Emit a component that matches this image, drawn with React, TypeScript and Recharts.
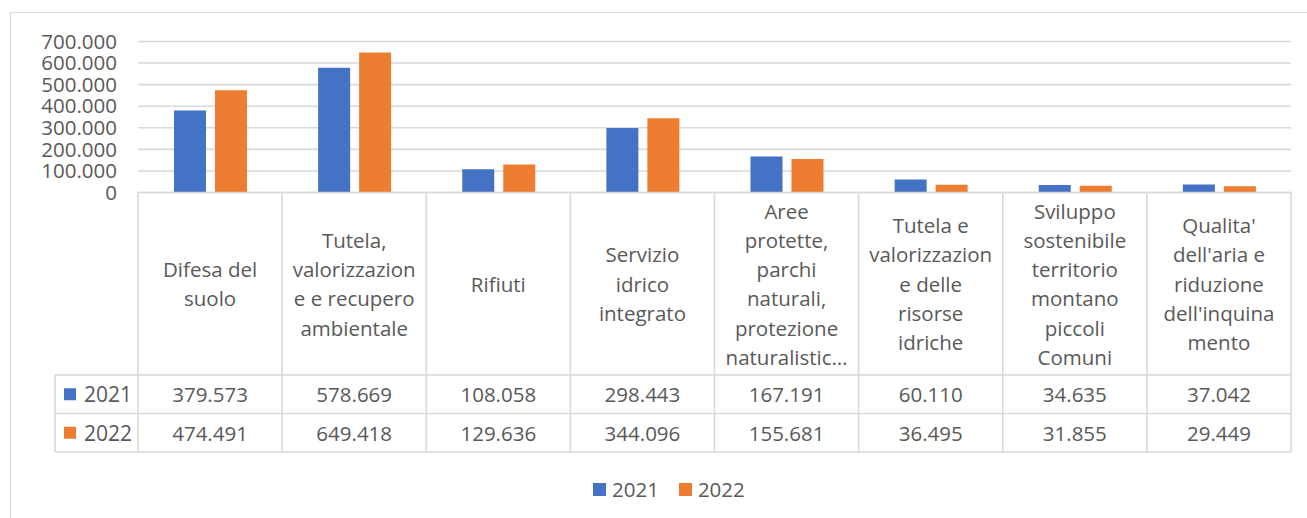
import React from 'react';
import { BarChart, Bar, XAxis, YAxis, CartesianGrid } from 'recharts';

const CATEGORY_LINES: string[][] = [
  ['Difesa del', 'suolo'],
  ['Tutela,', 'valorizzazion', 'e e recupero', 'ambientale'],
  ['Rifiuti'],
  ['Servizio', 'idrico', 'integrato'],
  ['Aree', 'protette,', 'parchi', 'naturali,', 'protezione', 'naturalistic…'],
  ['Tutela e', 'valorizzazion', 'e delle', 'risorse', 'idriche'],
  ['Sviluppo', 'sostenibile', 'territorio', 'montano', 'piccoli', 'Comuni'],
  ["Qualita'", "dell'aria e", 'riduzione', "dell'inquina", 'mento'],
];

const VALUES_2021 = [379573, 578669, 108058, 298443, 167191, 60110, 34635, 37042];
const VALUES_2022 = [474491, 649418, 129636, 344096, 155681, 36495, 31855, 29449];

const SERIES_NAMES = ['2021', '2022'];
const SERIES_KEYS = ['y2021', 'y2022'];
const SERIES_VALUES = [VALUES_2021, VALUES_2022];
const SERIES_COLORS = ['#4472C4', '#ED7D31'];

const Y_TICKS = [0, 100000, 200000, 300000, 400000, 500000, 600000, 700000];

const data = CATEGORY_LINES.map((lines, i) => {
  const row: Record<string, string | number> = { name: lines.join(' ') };
  SERIES_KEYS.forEach((k, s) => {
    row[k] = SERIES_VALUES[s][i];
  });
  return row;
});

const fmt = (v: number) => String(v).replace(/\B(?=(\d{3})+(?!\d))/g, '.');

const FONT = '"Open Sans", sans-serif';
const TEXT = '#595959';
const LINE = '#D9D9D9';

const CHART_W = 1307;
const CHART_H = 518;
const MARGIN = { top: 41.5, right: 16, bottom: 65.5, left: 0 };
const Y_AXIS_W = 138;
const X_AXIS_H = 260;
const BAND = (CHART_W - MARGIN.left - MARGIN.right - Y_AXIS_W) / CATEGORY_LINES.length;
const HEADER_H = 182.5;
const ROW_H = 38.5;
const LEFT_COL_W = 83;
const LINE_STEP = 29.3;

function TableTick(props: any) {
  const { x, y, index } = props;
  const half = BAND / 2;
  const left = x - half;
  const right = x + half;
  const hdrBottom = y + HEADER_H;
  const rows = SERIES_NAMES.map((_, s) => hdrBottom + ROW_H * s);
  const tableBottom = hdrBottom + ROW_H * SERIES_NAMES.length;
  const lines = CATEGORY_LINES[index] || [];
  const center = y + HEADER_H / 2;
  const first = center - ((lines.length - 1) / 2) * LINE_STEP;
  const sw = 1.6;
  return (
    <g>
      <line x1={left} x2={left} y1={y} y2={tableBottom} stroke={LINE} strokeWidth={sw} />
      {index === CATEGORY_LINES.length - 1 && (
        <line x1={right} x2={right} y1={y} y2={tableBottom} stroke={LINE} strokeWidth={sw} />
      )}
      {[...rows, tableBottom].map((ry, k) => (
        <line key={k} x1={left} x2={right} y1={ry} y2={ry} stroke={LINE} strokeWidth={sw} />
      ))}
      {lines.map((t, k) => (
        <text
          key={k}
          x={x}
          y={first + k * LINE_STEP}
          textAnchor="middle"
          dominantBaseline="central"
          fontFamily={FONT}
          fontSize={20.5}
          fill={TEXT}
        >
          {t}
        </text>
      ))}
      {SERIES_VALUES.map((vals, s) => (
        <text
          key={s}
          x={x}
          y={rows[s] + ROW_H / 2}
          textAnchor="middle"
          dominantBaseline="central"
          fontFamily={FONT}
          fontSize={20.5}
          fill={TEXT}
        >
          {fmt(vals[index])}
        </text>
      ))}
      {index === 0 && (
        <g>
          <line x1={left - LEFT_COL_W} x2={left - LEFT_COL_W} y1={hdrBottom} y2={tableBottom} stroke={LINE} strokeWidth={sw} />
          {[...rows, tableBottom].map((ry, k) => (
            <line key={k} x1={left - LEFT_COL_W} x2={left} y1={ry} y2={ry} stroke={LINE} strokeWidth={sw} />
          ))}
          {SERIES_NAMES.map((n, s) => (
            <g key={s}>
              <rect
                x={left - LEFT_COL_W + 9}
                y={rows[s] + ROW_H / 2 - 6}
                width={12}
                height={12}
                fill={SERIES_COLORS[s]}
              />
              <text
                x={left - LEFT_COL_W + 29}
                y={rows[s] + ROW_H / 2}
                dominantBaseline="central"
                fontFamily={FONT}
                fontSize={21}
                fill={TEXT}
              >
                {n}
              </text>
            </g>
          ))}
        </g>
      )}
    </g>
  );
}

export default function App() {
  return (
    <div
      style={{
        position: 'absolute',
        left: 0,
        top: 0,
        width: CHART_W,
        height: CHART_H,
        overflow: 'hidden',
        background: '#fff',
        fontFamily: FONT,
      }}
    >
      <div
        style={{
          position: 'absolute',
          left: 10,
          top: 12,
          width: CHART_W,
          height: CHART_H,
          borderLeft: `1.6px solid ${LINE}`,
          borderTop: `1.6px solid ${LINE}`,
          boxSizing: 'border-box',
        }}
      />
      <div style={{ position: 'absolute', left: 0, top: 0 }}>
        <BarChart width={CHART_W} height={CHART_H} data={data} margin={MARGIN} barSize={32} barGap={9}>
          <CartesianGrid vertical={false} stroke={LINE} strokeWidth={1.6} />
          <XAxis
            dataKey="name"
            type="category"
            height={X_AXIS_H}
            interval={0}
            tickLine={false}
            tickSize={0}
            tickMargin={0}
            axisLine={{ stroke: LINE, strokeWidth: 1.6 }}
            tick={<TableTick />}
          />
          <YAxis
            width={Y_AXIS_W}
            domain={[0, 700000]}
            ticks={Y_TICKS}
            interval={0}
            axisLine={false}
            tickLine={false}
            tickSize={0}
            tickMargin={21}
            tickFormatter={fmt}
            tick={{ fill: TEXT, fontSize: 20.5, fontFamily: FONT }}
          />
          {SERIES_KEYS.map((k, s) => (
            <Bar key={k} dataKey={k} name={SERIES_NAMES[s]} fill={SERIES_COLORS[s]} isAnimationActive={false} />
          ))}
        </BarChart>
      </div>
      <div
        style={{
          position: 'absolute',
          left: 593,
          top: 476,
          display: 'flex',
          alignItems: 'center',
          gap: 20,
          fontSize: 20.5,
          color: TEXT,
          fontFamily: FONT,
          lineHeight: '26px',
        }}
      >
        {SERIES_NAMES.map((n, s) => (
          <div key={n} style={{ display: 'flex', alignItems: 'center', gap: 6 }}>
            <span style={{ display: 'inline-block', width: 13, height: 13, background: SERIES_COLORS[s] }} />
            <span>{n}</span>
          </div>
        ))}
      </div>
    </div>
  );
}
